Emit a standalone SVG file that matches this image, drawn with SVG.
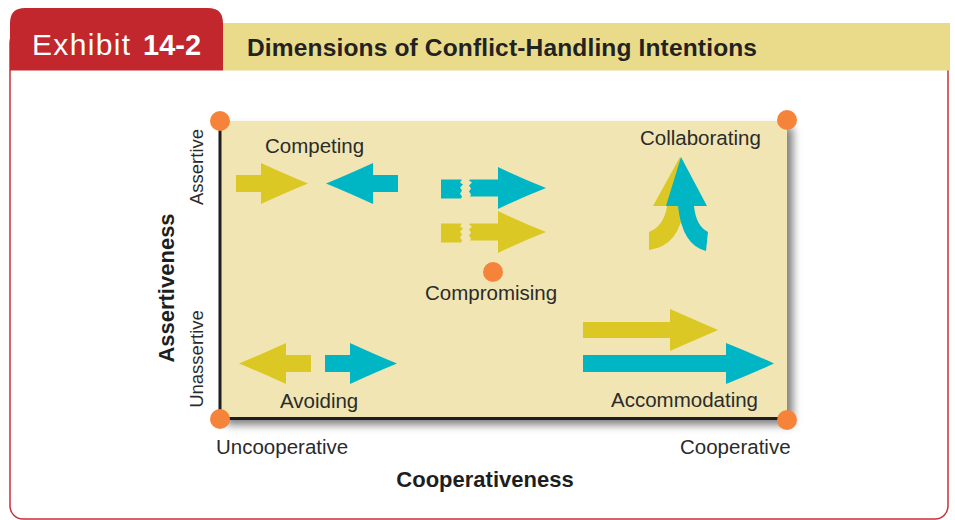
<svg xmlns="http://www.w3.org/2000/svg" width="955" height="520" viewBox="0 0 955 520">
<style>
.lbl{font-family:"Liberation Sans",Arial,sans-serif;font-size:20.5px;fill:#2b2b2b}
.ax{font-family:"Liberation Sans",Arial,sans-serif;font-size:18.5px;fill:#2b2b2b}
.axb{font-family:"Liberation Sans",Arial,sans-serif;font-size:22px;font-weight:bold;fill:#1e1e1e}
.y{fill:#DCC824}
.c{fill:#00B5C4}
.dot{fill:#F5843A}
</style>
<defs>
<filter id="sh" x="-5%" y="-5%" width="115%" height="120%">
<feGaussianBlur in="SourceAlpha" stdDeviation="4"/>
<feOffset dx="6" dy="6"/>
<feComponentTransfer><feFuncA type="linear" slope="0.5"/></feComponentTransfer>
<feMerge><feMergeNode/><feMergeNode in="SourceGraphic"/></feMerge>
</filter>
<path id="shortArrow" d="M0,-8.5 H25 V-20.5 Q50,-9 72,0 Q50,9 25,20.5 V8.5 H0 Z"/>
<path id="brokenArrow" d="M0,-8.5 H21 l-2,3 l3,2 l-3,3 l2,3 l-2,3 l2,3 l-1,2 H0 Z M29,-8.5 H57 V-21 Q82,-9 105,0 Q82,9 57,21 V8.5 H29 l1,-2 l-2,-3 l2,-3 l-2,-3 l3,-3 l-3,-2 z"/>
</defs>

<g id="frame">
<rect x="10" y="30" width="938" height="489" rx="13" fill="#fff" stroke="#C9303A" stroke-width="1.5"/>
<rect x="223" y="23" width="727" height="47.5" fill="#EADB8A"/>
<path d="M10,70.5 V23 Q10,8 25,8 H208 Q223,8 223,23 V70.5 Z" fill="#C1272D"/>
<text x="32" y="55" font-family="'Liberation Sans',Arial,sans-serif" font-size="30" fill="#fff" textLength="98">Exhibit</text>
<text x="143" y="55" font-family="'Liberation Sans',Arial,sans-serif" font-size="29" font-weight="bold" fill="#fff">14-2</text>
<text x="247" y="56" font-family="'Liberation Sans',Arial,sans-serif" font-size="24.5" font-weight="bold" fill="#222" textLength="510">Dimensions of Conflict-Handling Intentions</text>
</g>

<g id="plot">
<rect x="220" y="121" width="567" height="298" fill="#F1E6B3" filter="url(#sh)"/>
</g>

<g id="connectors">
<path d="M220,120 V418.5 H787" fill="none" stroke="#1e1e1e" stroke-width="3"/>
</g>

<g id="axis-labels">
<text class="ax" transform="translate(203,167) rotate(-90)" text-anchor="middle">Assertive</text>
<text class="ax" transform="translate(203,359) rotate(-90)" text-anchor="middle">Unassertive</text>
<text class="axb" transform="translate(174,288) rotate(-90)" text-anchor="middle">Assertiveness</text>
<text class="lbl" x="216" y="454">Uncooperative</text>
<text class="lbl" x="680" y="454">Cooperative</text>
<text class="axb" x="485" y="487" text-anchor="middle">Cooperativeness</text>
</g>

<g id="competing">
<use href="#shortArrow" class="y" transform="translate(236,183.5)"/>
<use href="#shortArrow" class="c" transform="translate(398,183.5) scale(-1,1)"/>
<text class="lbl" x="265" y="153">Competing</text>
</g>

<g id="compromising">
<use href="#brokenArrow" class="c" transform="translate(441,188)"/>
<use href="#brokenArrow" class="y" transform="translate(441,232)"/>
<text class="lbl" x="425" y="300">Compromising</text>
</g>

<g id="collaborating">
<path class="y" d="M680,157 L706,206 L684,206 Q680,246 649,250 L649,232 Q664,226 667,206 L653,206 Z"/>
<path class="c" d="M681,157 L707,206 L694,206 Q696,226 708,232 L706,251 Q682,245 678,206 L666,206 Z"/>
<text class="lbl" x="640" y="145">Collaborating</text>
</g>

<g id="avoiding">
<use href="#shortArrow" class="y" transform="translate(311,363.5) scale(-1,1)"/>
<use href="#shortArrow" class="c" transform="translate(325,363.5)"/>
<text class="lbl" x="280" y="408">Avoiding</text>
</g>

<g id="accommodating">
<path class="y" d="M583,322 H670 V309 Q695,320 718,330 Q695,340 670,351 V338 H583 Z"/>
<path class="c" d="M583,355 H726 V343 Q751,353 774,363.5 Q751,374 726,384 V372 H583 Z"/>
<text class="lbl" x="611" y="407">Accommodating</text>
</g>

<g id="dots">
<circle class="dot" cx="220" cy="121" r="10"/>
<circle class="dot" cx="787" cy="120" r="10"/>
<circle class="dot" cx="220" cy="419" r="10"/>
<circle class="dot" cx="787" cy="420" r="10"/>
<circle class="dot" cx="493" cy="272" r="10"/>
</g>
</svg>
